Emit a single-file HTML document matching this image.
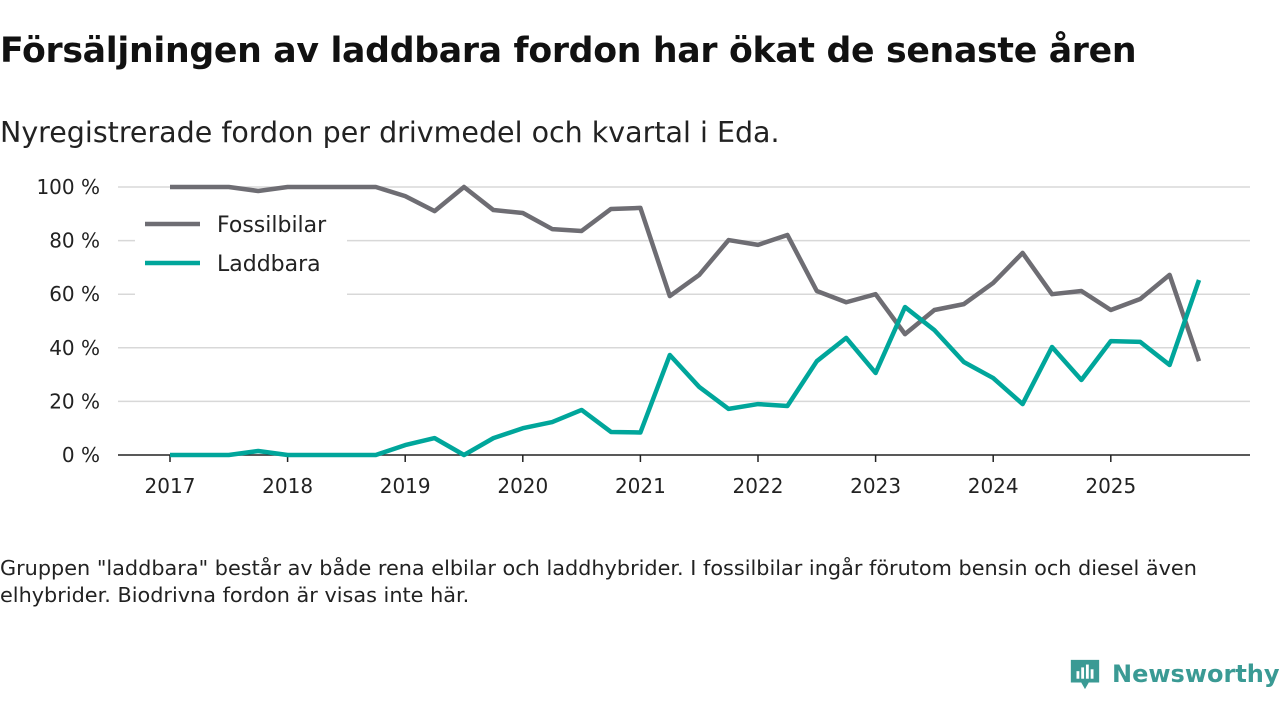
<!DOCTYPE html>
<html><head><meta charset="utf-8"><style>
body{margin:0;width:1280px;height:720px;background:#fff;font-family:"DejaVu Sans","Liberation Sans",sans-serif;color:#111;overflow:hidden;position:relative}
h1{position:absolute;left:0;top:31px;margin:0;font-size:34.7px;font-weight:bold;letter-spacing:-0.3px;white-space:nowrap}
.sub{position:absolute;left:0;top:116px;font-size:28.5px;color:#222;white-space:nowrap}
.note{position:absolute;left:0;top:555px;font-size:20.8px;line-height:27px;color:#222;width:1215px}
.logo{position:absolute;left:1068px;top:656px;display:flex;align-items:center;gap:10px;color:#3a9a94;font-size:24px;font-weight:bold;white-space:nowrap}
</style></head><body>
<h1>Försäljningen av laddbara fordon har ökat de senaste åren</h1>
<div class="sub">Nyregistrerade fordon per drivmedel och kvartal i Eda.</div>
<svg id="chart" width="1280" height="520" style="position:absolute;left:0;top:0"></svg>
<div class="note">Gruppen "laddbara" består av både rena elbilar och laddhybrider. I fossilbilar ingår förutom bensin och diesel även elhybrider. Biodrivna fordon är visas inte här.</div>
<div class="logo"><svg width="34" height="36" viewBox="0 0 36 36"><path d="M3 3h30v24H22l-4 7-4-7H3z" fill="#3a9a94"/><rect x="9" y="15" width="3" height="8" fill="#fff"/><rect x="14" y="11" width="3" height="12" fill="#fff"/><rect x="19" y="8" width="3" height="15" fill="#fff"/><rect x="24" y="13" width="3" height="10" fill="#fff"/></svg><span>Newsworthy</span></div>
<script>
const years=[2017,2018,2019,2020,2021,2022,2023,2024,2025];
const yTicks=[0,20,40,60,80,100];
const fossil=[100,100,100,98.5,100,100,100,100,96.6,91,100,91.4,90.3,84.3,83.6,91.8,92.2,59.3,67.2,80.2,78.4,82.1,61.2,57,60,45.1,54.1,56.3,64.2,75.4,60,61.2,54.1,58.2,67.2,35];
const laddbara=[0,0,0,1.5,0,0,0,0,3.7,6.3,0,6.3,10,12.3,16.8,8.6,8.4,37.3,25.4,17.2,19,18.3,35,43.7,30.6,55.2,46.6,34.7,28.7,19,40.3,28,42.5,42.2,33.6,65.3];
const svg=document.getElementById('chart');const NS='http://www.w3.org/2000/svg';
const X=t=>170+(t-2017)*117.6; const Y=v=>455-v*2.68;
function mk(tag,attrs){const e=document.createElementNS(NS,tag);for(const k in attrs)e.setAttribute(k,attrs[k]);svg.appendChild(e);return e;}
yTicks.forEach(v=>{
 if(v>0){const g=mk('line',{x1:118,x2:1250,y1:Y(v),y2:Y(v),stroke:'#d8d8d8','stroke-width':1.5});
 
 }
 const t=mk('text',{x:100,y:Y(v)+7,'text-anchor':'end','font-size':20,fill:'#222'});t.textContent=v+' %';
 
 
});
const ax=mk('line',{x1:118,x2:1250,y1:455,y2:455,stroke:'#222','stroke-width':1.5});


years.forEach(y=>{
 const tk=mk('line',{x1:X(y),x2:X(y),y1:455,y2:462,stroke:'#222','stroke-width':1.5});
 
 
 const t=mk('text',{x:X(y),y:493,'text-anchor':'middle','font-size':20,fill:'#222'});t.textContent=y;
 
 
});
function line(data,color,name){
 const p=mk('polyline',{points:data.map((v,i)=>X(2017+i/4)+','+Y(v)).join(' '),fill:'none',stroke:color,'stroke-width':4.5,'stroke-linejoin':'round'});
 
 
}
line(fossil,'#6e6d73','fossilbilar-line');
line(laddbara,'#00a69b','laddbara-line');
const lb=mk('rect',{x:135,y:205,width:212,height:90,fill:'#fff'});


[['Fossilbilar','#6e6d73',224],['Laddbara','#00a69b',263]].forEach(([n,c,y])=>{
 const l=mk('line',{x1:145,x2:200,y1:y,y2:y,stroke:c,'stroke-width':4.5});
 
 
 const t=mk('text',{x:217,y:y+8,'font-size':22,fill:'#222'});t.textContent=n;
 
 
});
</script>
</body></html>
